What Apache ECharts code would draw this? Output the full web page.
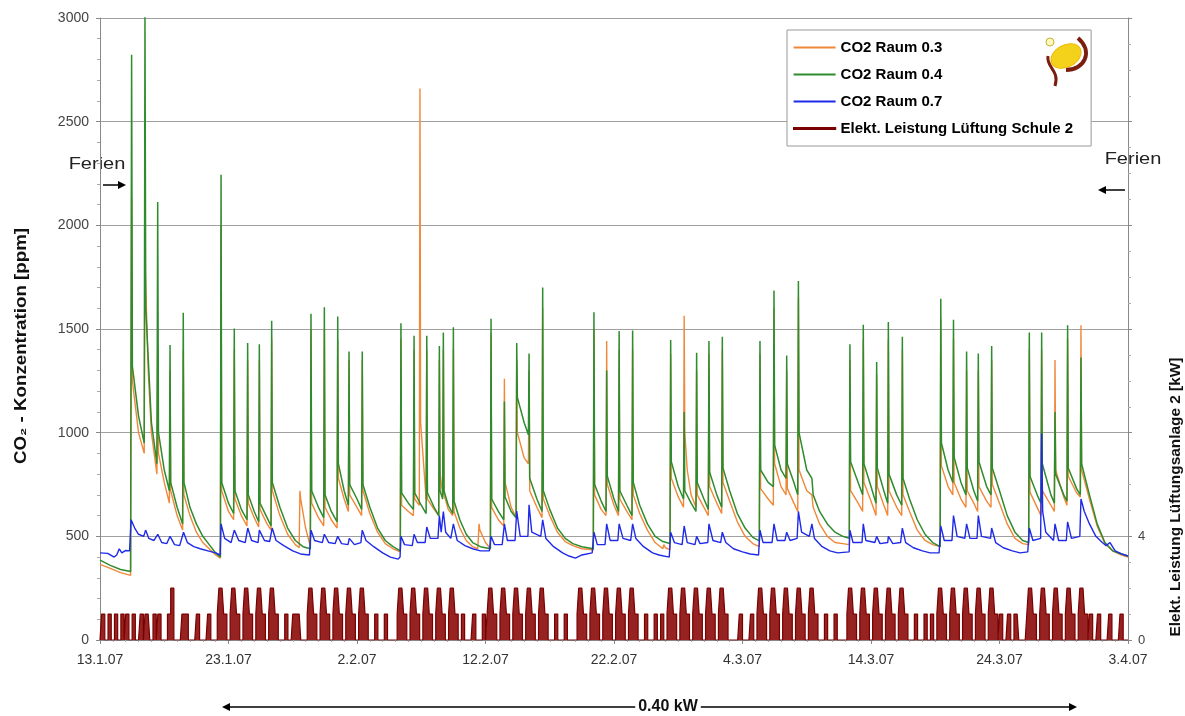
<!DOCTYPE html>
<html><head><meta charset="utf-8">
<script src="https://cdn.jsdelivr.net/npm/echarts@6/dist/echarts.min.js"></script>
<style>html,body{margin:0;padding:0;background:#fff}#c{width:1185px;height:716px}</style>
</head><body><div id="c"></div>
<script>
// x = days since 13.1.07
const xTickLabels = ['13.1.07','23.1.07','2.2.07','12.2.07','22.2.07','4.3.07','14.3.07','24.3.07','3.4.07'];
const leftTicks = [0,500,1000,1500,2000,2500,3000];

const co2Raum03 = [
[0,365],[0.8,345],[1.6,325],[2.38,312],
[2.46,2130],[2.52,1250],[3.0,1000],[3.44,900],[3.5,1840],[3.75,1300],[4.0,1000],[4.43,800],[4.49,1400],[4.55,900],[5.0,760],[5.4,660],[5.45,1300],[5.5,720],[6.0,600],[6.43,530],[6.48,1400],[6.53,700],[7.0,600],[7.5,520],[8.0,470],[8.5,440],[9.0,410],[9.37,395],
[9.42,2000],[9.47,720],[10.0,620],[10.4,580],[10.45,1400],[10.5,680],[11.0,600],[11.44,550],[11.49,1350],[11.54,660],[12.0,590],[12.35,545],[12.4,1350],[12.45,630],[13.0,560],[13.31,530],[13.36,1450],[13.41,720],[14.0,600],[14.6,510],[15.2,460],[15.5,445],[15.56,720],[15.62,680],[16.0,540],[16.37,450],
[16.42,1500],[16.47,660],[17.0,590],[17.41,550],[17.46,1500],[17.51,640],[18.0,580],[18.45,540],[18.5,1450],[18.55,780],[19.0,680],[19.33,620],[19.38,1350],[19.43,700],[20.0,640],[20.36,600],[20.41,1350],[20.46,720],[21.0,610],[21.6,520],[22.2,465],[22.8,440],[23.37,425],
[23.42,1450],[23.47,650],[24.0,620],[24.39,600],[24.44,1400],[24.49,680],[24.85,650],[24.9,2660],[24.95,1050],[25.38,680],[25.43,1400],[25.48,680],[26.0,630],[26.36,600],[26.41,1350],[26.46,810],[26.67,700],[26.72,1400],[26.77,700],[27.1,630],[27.45,600],[27.5,1400],[27.55,620],[28.0,540],[28.5,480],[29.0,450],[29.4,440],[29.5,560],[29.56,530],[30.0,470],[30.38,440],
[30.43,1480],[30.48,640],[31.0,580],[31.42,550],[31.47,1260],[31.52,760],[32.0,640],[32.38,590],[32.43,1350],[32.48,1000],[33.0,880],[33.34,850],[33.39,1300],[33.44,720],[34.0,640],[34.4,590],[34.45,1600],[34.5,680],[35.0,600],[35.6,520],[36.2,475],[36.8,455],[37.5,440],[38.39,435],
[38.44,1500],[38.49,700],[39.0,630],[39.38,600],[39.43,1442],[39.48,750],[40.0,650],[40.35,600],[40.4,1400],[40.45,680],[41.0,620],[41.4,580],[41.45,1400],[41.5,700],[42.0,610],[42.6,530],[43.2,470],[43.8,440],[43.88,460],[44.0,445],[44.36,435],
[44.41,1380],[44.46,780],[45.0,690],[45.41,640],[45.46,1564],[45.51,1000],[45.7,820],[46.0,700],[46.38,640],[46.43,1300],[46.48,700],[47.0,640],[47.34,600],[47.39,1380],[47.44,740],[48.0,660],[48.38,610],[48.43,1400],[48.48,760],[49.0,670],[49.6,570],[50.2,500],[50.8,465],[51.31,450],
[51.36,1380],[51.41,730],[52.0,680],[52.4,650],[52.45,1600],[52.5,850],[53.0,740],[53.39,700],[53.44,1300],[53.49,730],[54.0,660],[54.3,620],[54.35,1650],[54.4,820],[55.0,720],[55.4,700],[55.5,640],[56.0,560],[56.6,500],[57.2,470],[57.8,465],[58.31,460],
[58.36,1350],[58.41,720],[59.0,660],[59.35,620],[59.4,1450],[59.45,760],[60.0,670],[60.39,600],[60.44,1280],[60.49,740],[61.0,650],[61.3,600],[61.35,1450],[61.4,720],[62.0,640],[62.39,600],[62.44,1400],[62.49,700],[63.0,620],[63.6,530],[64.2,480],[64.8,460],[65.38,450],
[65.43,1550],[65.48,840],[66.0,740],[66.37,700],[66.42,1450],[66.47,760],[67.0,680],[67.39,640],[67.44,1300],[67.49,720],[68.0,660],[68.3,620],[68.35,1300],[68.4,740],[69.0,670],[69.34,640],[69.39,1350],[69.44,750],[70.0,660],[70.6,560],[71.2,490],[71.8,465],[72.27,460],
[72.32,1400],[72.37,713],[73.0,630],[73.23,600],[73.28,1400],[73.33,720],[74.0,650],[74.27,620],[74.32,1351],[74.37,820],[75.0,690],[75.25,650],[75.3,1450],[75.35,790],[76.0,710],[76.29,690],[76.34,1518],[76.39,820],[77.0,680],[77.6,550],[78.2,465],[78.8,430],[79.5,410],[80,400]
];

const co2Raum04 = [
[0,385],[0.8,360],[1.6,340],[2.38,330],
[2.46,2823],[2.52,1320],[3.0,1080],[3.44,950],[3.5,3006],[3.56,1600],[4.0,1050],[4.43,850],[4.49,2113],[4.55,1000],[5.0,820],[5.4,720],[5.45,1423],[5.5,760],[6.0,640],[6.43,560],[6.48,1578],[6.53,760],[7.0,640],[7.5,560],[8.0,500],[8.5,460],[9.0,420],[9.37,400],
[9.42,2244],[9.47,760],[10.0,660],[10.4,610],[10.45,1503],[10.5,720],[11.0,630],[11.44,580],[11.49,1432],[11.54,700],[12.0,620],[12.35,570],[12.4,1426],[12.45,660],[13.0,590],[13.31,550],[13.36,1540],[13.41,760],[14.0,640],[14.6,540],[15.2,480],[15.8,450],[16.37,440],
[16.42,1574],[16.47,720],[17.0,640],[17.41,590],[17.46,1605],[17.51,700],[18.0,620],[18.45,570],[18.5,1560],[18.55,850],[19.0,720],[19.33,650],[19.38,1392],[19.43,750],[20.0,680],[20.36,630],[20.41,1392],[20.46,750],[21.0,640],[21.6,540],[22.2,480],[22.8,450],[23.37,430],
[23.42,1528],[23.47,710],[24.0,660],[24.39,630],[24.44,1467],[24.49,710],[25.0,650],[25.38,610],[25.43,1467],[25.48,710],[26.0,640],[26.36,600],[26.41,1418],[26.46,720],[26.67,680],[26.72,1483],[26.77,720],[27.1,650],[27.45,610],[27.5,1508],[27.55,670],[28.0,580],[28.5,510],[29.0,470],[29.6,450],[30.38,440],
[30.43,1550],[30.48,680],[31.0,620],[31.42,580],[31.47,1150],[31.52,690],[32.0,620],[32.38,590],[32.43,1432],[32.48,1170],[33.0,1050],[33.34,990],[33.39,1382],[33.44,780],[34.0,680],[34.4,620],[34.45,1700],[34.5,720],[35.0,630],[35.6,540],[36.2,490],[36.8,465],[37.5,450],[38.39,440],
[38.44,1581],[38.49,750],[39.0,670],[39.38,620],[39.43,1300],[39.48,790],[40.0,680],[40.35,620],[40.4,1490],[40.45,720],[41.0,650],[41.4,600],[41.45,1493],[41.5,760],[42.0,650],[42.6,560],[43.2,500],[43.8,475],[44.36,465],
[44.41,1447],[44.46,860],[45.0,740],[45.41,680],[45.46,1100],[45.51,720],[46.0,660],[46.38,620],[46.43,1386],[46.48,760],[47.0,680],[47.34,630],[47.39,1442],[47.44,810],[48.0,700],[48.38,640],[48.43,1463],[48.48,830],[49.0,720],[49.6,610],[50.2,540],[50.8,495],[51.31,478],
[51.36,1442],[51.41,820],[52.0,760],[52.4,740],[52.45,1686],[52.5,940],[53.0,820],[53.39,780],[53.44,1372],[53.49,850],[54.0,760],[54.3,700],[54.35,1731],[54.4,1000],[55.0,820],[55.4,780],[55.5,700],[56.0,620],[56.6,560],[57.2,520],[57.8,500],[58.31,490],
[58.36,1426],[58.41,860],[59.0,760],[59.35,700],[59.4,1520],[59.45,850],[60.0,740],[60.39,660],[60.44,1341],[60.49,830],[61.0,720],[61.3,660],[61.35,1534],[61.4,800],[62.0,700],[62.39,650],[62.44,1463],[62.49,780],[63.0,680],[63.6,580],[64.2,510],[64.8,470],[65.38,450],
[65.43,1646],[65.48,950],[66.0,820],[66.37,760],[66.42,1544],[66.47,880],[67.0,760],[67.39,700],[67.44,1392],[67.49,830],[68.0,720],[68.3,670],[68.35,1382],[68.4,860],[69.0,740],[69.34,700],[69.39,1418],[69.44,830],[70.0,720],[70.6,600],[71.2,520],[71.8,480],[72.27,470],
[72.32,1483],[72.37,790],[73.0,690],[73.23,660],[73.28,1483],[73.33,850],[74.0,700],[74.27,660],[74.32,1100],[74.37,800],[75.0,700],[75.25,670],[75.3,1518],[75.35,830],[76.0,730],[76.29,700],[76.34,1362],[76.39,850],[77.0,700],[77.6,560],[78.2,470],[78.8,430],[79.5,415],[80,405]
];

const co2Raum07 = [
[0,420],[0.6,418],[1.1,400],[1.3,410],[1.5,440],[1.7,420],[2.0,432],[2.3,430],[2.42,580],[2.7,540],[3.0,510],[3.4,500],[3.55,530],[3.8,490],[4.2,480],[4.5,510],[4.8,470],[5.2,465],[5.45,500],[5.8,460],[6.2,455],[6.5,520],[6.8,470],[7.3,450],[7.8,440],[8.4,430],[9.0,420],[9.35,410],
[9.42,560],[9.7,490],[10.2,470],[10.45,530],[10.8,480],[11.3,470],[11.5,540],[11.8,480],[12.3,470],[12.4,530],[12.8,480],[13.2,475],[13.4,540],[13.7,480],[14.3,455],[15.0,430],[15.6,415],[16.3,410],
[16.42,530],[16.7,480],[17.3,470],[17.46,510],[17.8,470],[18.3,465],[18.5,500],[18.8,465],[19.3,460],[19.4,490],[19.8,460],[20.3,470],[20.41,530],[20.7,480],[21.3,450],[22.0,420],[22.6,400],[23.2,390],[23.35,400],
[23.42,500],[23.7,460],[24.3,455],[24.44,510],[24.7,470],[25.3,470],[25.43,545],[25.7,490],[26.3,490],[26.41,600],[26.55,520],[26.72,620],[26.9,520],[27.3,490],[27.5,560],[27.8,480],[28.4,455],[29.0,440],[29.6,430],[30.3,430],
[30.43,500],[30.7,460],[31.3,460],[31.47,560],[31.7,480],[32.3,480],[32.43,622],[32.7,500],[33.3,500],[33.39,652],[33.6,520],[34.3,500],[34.45,580],[34.7,490],[35.3,450],[36.0,420],[36.5,405],[37.0,395],[37.5,410],[38.3,420],
[38.44,520],[38.7,460],[39.3,460],[39.43,560],[39.7,480],[40.3,480],[40.4,560],[40.7,490],[41.3,480],[41.45,560],[41.7,490],[42.3,450],[43.0,420],[43.5,410],[44.3,400],
[44.41,520],[44.7,470],[45.3,460],[45.46,550],[45.7,470],[46.3,460],[46.43,500],[46.7,465],[47.3,470],[47.39,560],[47.7,480],[48.3,470],[48.43,520],[48.7,470],[49.3,440],[50.0,425],[50.6,415],[51.25,410],
[51.36,530],[51.6,470],[52.3,470],[52.45,560],[52.7,480],[53.3,480],[53.44,520],[53.7,480],[54.25,490],[54.35,620],[54.6,520],[55.2,500],[55.4,560],[55.6,490],[56.2,450],[56.8,430],[57.4,420],[58.3,425],
[58.36,530],[58.6,470],[59.3,470],[59.4,560],[59.6,480],[60.3,470],[60.44,500],[60.7,465],[61.3,470],[61.35,500],[61.7,465],[62.3,470],[62.44,540],[62.7,470],[63.3,445],[64.0,430],[64.6,420],[65.3,420],
[65.43,550],[65.7,480],[66.3,480],[66.42,600],[66.7,500],[67.3,490],[67.44,560],[67.7,490],[68.25,490],[68.35,600],[68.6,500],[69.3,490],[69.39,540],[69.7,470],[70.3,445],[71.0,430],[71.6,420],[72.2,425],
[72.32,540],[72.6,480],[73.2,490],[73.28,996],[73.36,620],[73.6,520],[74.2,480],[74.32,560],[74.6,480],[75.2,480],[75.3,570],[75.6,490],[76.25,500],[76.34,680],[76.6,620],[77.0,560],[77.5,500],[78.0,470],[78.3,455],[78.6,470],[79.0,430],[79.5,415],[80,405]
];

// electric power [kW], one string per day, eight 3-hour blocks per day
const powerDays = [
'01100110','01100110','11001100','01101110','01101100','00112200','00011110','00001100','00011000',
'01222110','01222110','01222110','01222110','01222110','00011000','11111000',
'01222110','01222110','01222110','01222110','01222110','00011000','01100000',
'01222110','01222110','01222110','01222110','01222110','01100000','11000011',
'01222110','01222110','01222110','01222110','01222110','00011000','01100000',
'01222110','01222110','01222110','01222110','01222110','00011000','01100110',
'01222110','01222110','01222110','01222110','01222110','00000011','00000110',
'01222110','01222110','01222110','01222110','01222110','00011000','01100000',
'01222110','01222110','01222110','01222110','01222110','00011000','01100110',
'01222110','01222110','01222110','01222110','01222110','11000110','01110000',
'01222110','01222110','01222110','01222110','01222110','11000110','00001100','00011000'
];

const powerData = [];
powerDays.forEach((s, d) => {
  for (let j = 0; j < s.length; j++) powerData.push([d + j / s.length, Number(s[j])]);
});
powerData.push([powerDays.length, 0]);

const FONT = "'Liberation Sans', Arial, 'DejaVu Sans', sans-serif";

const chart = echarts.init(document.getElementById('c'), null, {renderer: 'canvas'});

function arrowHead(x, y, dir) {
  return {type: 'polygon', shape: {points: [[x, y], [x - 8 * dir, y - 4], [x - 8 * dir, y + 4]]}, style: {fill: '#000'}};
}

chart.setOption({
  animation: false,
  backgroundColor: '#fff',
  grid: {left: 100, right: 57, top: 18, bottom: 76, containLabel: false},
  legend: {
    orient: 'vertical', left: 787, top: 30,
    backgroundColor: '#fff', borderColor: '#999', borderWidth: 1,
    padding: [10, 18, 10, 6], itemGap: 12, itemWidth: 42, itemHeight: 2,
    icon: 'rect',
    textStyle: {fontFamily: FONT, fontWeight: 'bold', fontSize: 15, color: '#000'},
    data: [
      {name: 'CO2 Raum 0.3'},
      {name: 'CO2 Raum 0.4'},
      {name: 'CO2 Raum 0.7'},
      {name: 'Elekt. Leistung Lüftung Schule 2', itemStyle: {borderWidth: 1.2, borderColor: '#7a0000'}}
    ]
  },
  xAxis: {
    type: 'value', min: 0, max: 80, interval: 10,
    axisLine: {lineStyle: {color: '#888'}},
    axisTick: {show: true, length: 4, lineStyle: {color: '#888'}},
    minorTick: {show: true, splitNumber: 10, length: 2, lineStyle: {color: '#aaa'}},
    splitLine: {show: false},
    axisLabel: {
      formatter: v => xTickLabels[Math.round(v / 10)],
      fontFamily: FONT, fontSize: 14, color: '#333', margin: 13
    }
  },
  yAxis: [
    {
      type: 'value', min: 0, max: 3000, interval: 500, position: 'left',
      axisLine: {show: true, lineStyle: {color: '#888'}},
      axisTick: {show: true, length: 4, lineStyle: {color: '#888'}},
      minorTick: {show: true, splitNumber: 5, length: 3, lineStyle: {color: '#aaa'}},
      splitLine: {show: true, lineStyle: {color: '#a0a0a0', width: 1}},
      axisLabel: {
        formatter: v => (leftTicks.indexOf(v) >= 0 ? String(v) : ''),
        fontFamily: FONT, fontSize: 14, color: '#444', margin: 11
      }
    },
    {
      type: 'value', min: 0, max: 24, interval: 4, position: 'right',
      axisLine: {show: true, lineStyle: {color: '#888'}},
      axisTick: {show: true, length: 4, lineStyle: {color: '#888'}},
      minorTick: {show: true, splitNumber: 4, length: 3, lineStyle: {color: '#aaa'}},
      splitLine: {show: false},
      axisLabel: {
        formatter: v => (v === 0 || v === 4 ? String(v) : ''),
        fontFamily: FONT, fontSize: 13, color: '#444', margin: 10
      }
    }
  ],
  series: [
    {name: 'CO2 Raum 0.3', type: 'line', data: co2Raum03, symbol: 'none', z: 3,
     lineStyle: {color: '#f0883a', width: 1.4}, itemStyle: {color: '#f0883a'}},
    {name: 'CO2 Raum 0.4', type: 'line', data: co2Raum04, symbol: 'none', z: 4,
     lineStyle: {color: '#2e8b2e', width: 1.5}, itemStyle: {color: '#2e8b2e'}},
    {name: 'CO2 Raum 0.7', type: 'line', data: co2Raum07, symbol: 'none', z: 5,
     lineStyle: {color: '#1f2ae8', width: 1.4}, itemStyle: {color: '#1f2ae8'}},
    {name: 'Elekt. Leistung Lüftung Schule 2', type: 'line', yAxisIndex: 1, data: powerData,
     step: 'end', symbol: 'none', z: 2,
     lineStyle: {color: '#7a0000', width: 1.2}, itemStyle: {color: '#7a0000'},
     areaStyle: {color: '#8b0a0a', opacity: 0.9}}
  ],
  graphic: [
    {type: 'text', x: 22, y: 346, rotation: Math.PI / 2, scaleX: 1.17,
     style: {text: 'CO₂ - Konzentration [ppm]', font: 'bold 16px ' + FONT, fill: '#111', align: 'center', verticalAlign: 'middle'}},
    {type: 'text', x: 1176, y: 497, rotation: Math.PI / 2, scaleX: 1.1,
     style: {text: 'Elekt. Leistung Lüftungsanlage 2 [kW]', font: 'bold 14px ' + FONT, fill: '#111', align: 'center', verticalAlign: 'middle'}},
    {type: 'text', x: 97, y: 165, scaleX: 1.25,
     style: {text: 'Ferien', font: '16px ' + FONT, fill: '#222', align: 'center', verticalAlign: 'middle'}},
    {type: 'line', shape: {x1: 103, y1: 185, x2: 119, y2: 185}, style: {stroke: '#000', lineWidth: 1.5}},
    arrowHead(126, 185, 1),
    {type: 'text', x: 1133, y: 160, scaleX: 1.25,
     style: {text: 'Ferien', font: '16px ' + FONT, fill: '#222', align: 'center', verticalAlign: 'middle'}},
    {type: 'line', shape: {x1: 1125, y1: 190, x2: 1105, y2: 190}, style: {stroke: '#000', lineWidth: 1.5}},
    arrowHead(1098, 190, -1),
    {type: 'line', shape: {x1: 229, y1: 707, x2: 1070, y2: 707}, style: {stroke: '#000', lineWidth: 1.5}},
    arrowHead(222, 707, -1),
    arrowHead(1077, 707, 1),
    {type: 'text', x: 668, y: 707, z: 10,
     style: {text: '0.40 kW', font: 'bold 16px ' + FONT, fill: '#111', align: 'center', verticalAlign: 'middle',
             backgroundColor: '#fff', padding: [2, 3]}},
    // logo in legend box
    {type: 'ellipse', x: 1066, y: 56, rotation: 0.5, z: 100,
     shape: {cx: 0, cy: 0, rx: 16, ry: 11},
     style: {fill: '#f4d21c', stroke: '#f0b800', lineWidth: 1}},
    {type: 'bezierCurve', z: 101,
     shape: {x1: 1078, y1: 38, cpx1: 1094, cpy1: 52, x2: 1066, y2: 70, cpx2: 1084, cpy2: 70},
     style: {stroke: '#7a1f10', lineWidth: 4, fill: null}},
    {type: 'bezierCurve', z: 101,
     shape: {x1: 1048, y1: 56, cpx1: 1046, cpy1: 68, x2: 1055, y2: 86, cpx2: 1060, cpy2: 70},
     style: {stroke: '#7a1f10', lineWidth: 3, fill: null}},
    {type: 'circle', z: 101, shape: {cx: 1050, cy: 42, r: 4},
     style: {fill: '#fff9c0', stroke: '#c9b030', lineWidth: 1}}
  ]
});
</script>
</body></html>
